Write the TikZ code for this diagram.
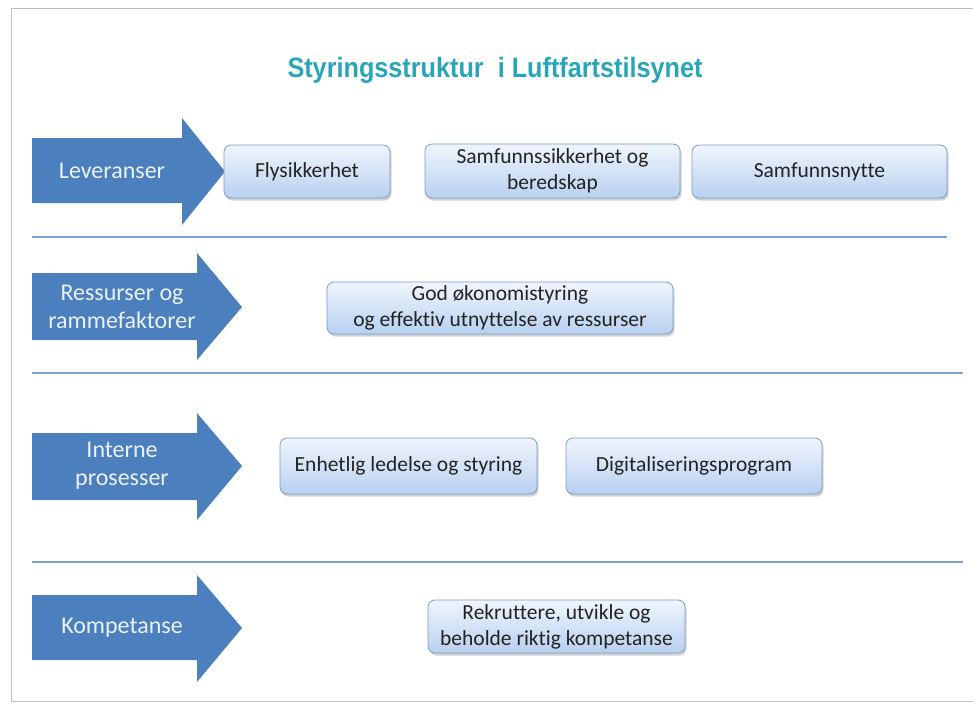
\documentclass[tikz,border=0pt]{standalone}
\usepackage{fontspec}
\setmainfont{Carlito}[Ligatures={NoCommon}]
\newfontfamily\titlefont{Liberation Sans}
\usetikzlibrary{shadows}
\definecolor{arrowblue}{RGB}{76,127,189}
\definecolor{arrowtext}{RGB}{236,242,250}
\definecolor{boxtop}{RGB}{240,245,252}
\definecolor{boxbot}{RGB}{184,208,240}
\definecolor{boxline}{RGB}{122,156,205}
\definecolor{sepline}{RGB}{125,160,205}
\definecolor{titleteal}{RGB}{40,166,184}
\definecolor{boxtext}{RGB}{35,35,35}
\definecolor{framegray}{RGB}{190,190,190}
\tikzset{
  bluearrow/.style={fill=arrowblue, draw=none},
  arrowlabel/.style={text=arrowtext, font=\fontsize{24}{28}\selectfont, align=center, inner sep=0pt},
  goalbox/.style={draw=boxline, line width=0.8pt, rounded corners=7pt,
    top color=boxtop, bottom color=boxbot, text=boxtext,
    font=\fontsize{21.5}{26}\selectfont, align=center, inner sep=2pt,
    drop shadow={shadow xshift=1.5pt, shadow yshift=-2.5pt, opacity=0.35}},
  separator/.style={draw=sepline, line width=1.6pt},
  frameline/.style={draw=framegray, line width=1pt}
}
\begin{document}
\begin{tikzpicture}[x=1pt,y=-1pt]
\useasboundingbox (0,0) rectangle (973,704);
\fill[white] (0,0) rectangle (973,704);
% outer frame
\coordinate (ftr) at (973,8);
\coordinate (ftl) at (11,8);
\coordinate (fbl) at (11,701);
\coordinate (fbr) at (973,701);
\draw[frameline] (ftr) -- (ftl) -- (fbl) -- (fbr);

% title
\node[text=titleteal, inner sep=0pt] (title) at (495,70)
  {\titlefont\bfseries\fontsize{28}{30}\selectfont\resizebox{415pt}{\height}{Styringsstruktur\ \ i Luftfartstilsynet}};

% arrows
\fill[bluearrow] (32,138) -- (182,138) -- (182,118) -- (225,171.5) -- (182,225) -- (182,203) -- (32,203) -- cycle;
\node[arrowlabel] (a1) at (112,171) {Leveranser};

\fill[bluearrow] (32,273) -- (197,273) -- (197,253) -- (242,307) -- (197,360) -- (197,340) -- (32,340) -- cycle;
\node[arrowlabel] (a2) at (122,307) {Ressurser og\\rammefaktorer};

\fill[bluearrow] (32,433) -- (197,433) -- (197,413) -- (242,466) -- (197,520) -- (197,500) -- (32,500) -- cycle;
\node[arrowlabel] (a3) at (122,466) {Interne\\prosesser};

\fill[bluearrow] (32,595) -- (197,595) -- (197,575) -- (242,628) -- (197,682) -- (197,660) -- (32,660) -- cycle;
\node[arrowlabel] (a4) at (122,628) {Kompetanse};

% separators
\coordinate (s1a) at (32,237); \coordinate (s1b) at (947,237);
\coordinate (s2a) at (32,373); \coordinate (s2b) at (963,373);
\coordinate (s3a) at (32,562); \coordinate (s3b) at (963,562);
\draw[separator] (s1a) -- (s1b);
\draw[separator] (s2a) -- (s2b);
\draw[separator] (s3a) -- (s3b);

% boxes
\node[goalbox, minimum width=166pt, minimum height=53pt] (b1) at (307,171.5) {Flysikkerhet};
\node[goalbox, minimum width=255pt, minimum height=54pt] (b2) at (552.5,171) {Samfunnssikkerhet og\\beredskap};
\node[goalbox, minimum width=255pt, minimum height=53pt] (b3) at (819.5,171.5) {Samfunnsnytte};
\node[goalbox, minimum width=346pt, minimum height=52pt] (b4) at (500,308) {God økonomistyring\\og effektiv utnyttelse av ressurser};
\node[goalbox, minimum width=257pt, minimum height=56pt] (b5) at (408.5,466) {Enhetlig ledelse og styring};
\node[goalbox, minimum width=256pt, minimum height=56pt] (b6) at (694,466) {Digitaliseringsprogram};
\node[goalbox, minimum width=257pt, minimum height=53pt] (b7) at (556.5,626.5) {Rekruttere, utvikle og\\beholde riktig kompetanse};
\end{tikzpicture}
\end{document}
